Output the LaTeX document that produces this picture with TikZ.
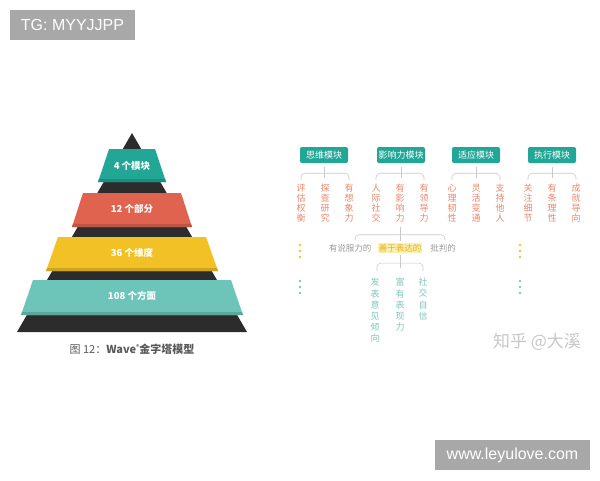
\documentclass[tikz,border=0pt]{standalone}
\usepackage{fontspec}
\setmainfont{Noto Sans CJK SC}
\newfontfamily\latinfont{Liberation Sans}
\usetikzlibrary{positioning}
\definecolor{tealA}{HTML}{22A696}
\definecolor{tealB}{HTML}{6DC5B9}
\definecolor{redA}{HTML}{E0634F}
\definecolor{yelA}{HTML}{F2C125}
\definecolor{darkA}{HTML}{2C2C2C}
\definecolor{salmon}{HTML}{E8866C}
\definecolor{greenT}{HTML}{7CC8BA}
\definecolor{grayT}{HTML}{9A9A9A}
\definecolor{lineG}{HTML}{C9C9C9}
\definecolor{hiY}{HTML}{FBF0B0}
\definecolor{yelT}{HTML}{E2B21C}
\definecolor{wmbox}{HTML}{A8A8A8}
\tikzstyle{level} = [text=white, font=\fontsize{9.5}{10}\selectfont\bfseries]
\tikzstyle{module} = [rectangle, rounded corners=2pt, minimum width=48pt, minimum height=16pt, inner sep=0pt, fill=tealA, text=white, font=\fontsize{9}{10}\selectfont]
\tikzstyle{trait} = [anchor=north, align=center, inner sep=0pt, text=salmon, font=\fontsize{9}{10}\selectfont]
\tikzstyle{facet} = [anchor=north, align=center, inner sep=0pt, text=greenT, font=\fontsize{9}{11.2}\selectfont]
\tikzstyle{option} = [inner sep=1pt, text=grayT, font=\fontsize{8.5}{9}\selectfont]
\tikzstyle{bracket} = [draw=lineG, line width=0.6pt, rounded corners=4pt]
\tikzstyle{tag} = [rectangle, inner sep=0pt, fill=wmbox, text=white, font=\latinfont\fontsize{16}{17}\selectfont]

\begin{document}
\begin{tikzpicture}[x=1pt, y=-1pt, node distance=43.3pt]
    \useasboundingbox (0,0) rectangle (600,480);

    % pyramid
    \fill[darkA] (132,133) -- (247,332) -- (17,332) -- cycle;
    \fill[tealA] (109,149) -- (155,149) -- (166,182) -- (98,182) -- cycle;
    \fill[tealA!85!black] (99,179) -- (165,179) -- (166,182) -- (98,182) -- cycle;
    \fill[redA] (83,193) -- (181,193) -- (192,227) -- (72,227) -- cycle;
    \fill[redA!85!black] (73,224) -- (191,224) -- (192,227) -- (72,227) -- cycle;
    \fill[yelA] (58,237) -- (206,237) -- (218,271) -- (46,271) -- cycle;
    \fill[yelA!85!black] (47,268) -- (217,268) -- (218,271) -- (46,271) -- cycle;
    \fill[tealB] (33,280) -- (231,280) -- (243,315) -- (21,315) -- cycle;
    \fill[tealB!85!black] (22,312) -- (242,312) -- (243,315) -- (21,315) -- cycle;

    \node (lvl1) [level] at (132,166) {4 个模块};
    \node (lvl2) [level, below of=lvl1] {12 个部分};
    \node (lvl3) [level, below of=lvl2] {36 个维度};
    \node (lvl4) [level, below of=lvl3] {108 个方面};
    \node (cap) at (132,349) [text=black!65, font=\fontsize{11}{12}\selectfont] {图 12：\textbf{Wave\raisebox{0.7ex}{\fontsize{6}{6}\selectfont ®}金字塔模型}};

    % modules
    \node (mod1) [module] at (324,155) {思维模块};
    \node (mod2) [module] at (401,155) {影响力模块};
    \node (mod3) [module] at (476,155) {适应模块};
    \node (mod4) [module] at (552,155) {执行模块};

    \node (c11) [trait] at (301,184) {评\\估\\权\\衡};
    \node (c12) [trait] at (325,184) {探\\查\\研\\究};
    \node (c13) [trait] at (349,184) {有\\想\\象\\力};
    \node (c21) [trait] at (376,184) {人\\际\\社\\交};
    \node (c22) [trait] at (400,184) {有\\影\\响\\力};
    \node (c23) [trait] at (424,184) {有\\领\\导\\力};
    \node (c31) [trait] at (452,184) {心\\理\\韧\\性};
    \node (c32) [trait] at (476,184) {灵\\活\\变\\通};
    \node (c33) [trait] at (500,184) {支\\持\\他\\人};
    \node (c41) [trait] at (528,184) {关\\注\\细\\节};
    \node (c42) [trait] at (552,184) {有\\条\\理\\性};
    \node (c43) [trait] at (576,184) {成\\就\\导\\向};

    \coordinate (k1) at ([yshift=-10pt]mod1.south);
    \coordinate (k2) at ([yshift=-10pt]mod2.south);
    \coordinate (k3) at ([yshift=-10pt]mod3.south);
    \coordinate (k4) at ([yshift=-10pt]mod4.south);
    \draw[bracket] ([yshift=4pt]c11.north) |- (k1) -| ([yshift=4pt]c13.north);
    \draw[bracket] ([yshift=4pt]c21.north) |- (k2) -| ([yshift=4pt]c23.north);
    \draw[bracket] ([yshift=4pt]c31.north) |- (k3) -| ([yshift=4pt]c33.north);
    \draw[bracket] ([yshift=4pt]c41.north) |- (k4) -| ([yshift=4pt]c43.north);
    \draw[bracket] ([yshift=-4pt]mod1.south) -- ([yshift=-15pt]mod1.south);
    \draw[bracket] ([yshift=-4pt]mod2.south) -- ([yshift=-15pt]mod2.south);
    \draw[bracket] ([yshift=-4pt]mod3.south) -- ([yshift=-15pt]mod3.south);
    \draw[bracket] ([yshift=-4pt]mod4.south) -- ([yshift=-15pt]mod4.south);

    % second level
    \node (opt1) [option] at (350,248) {有说服力的};
    \node (opt2) [option, fill=hiY, text=yelT] at (400,248) {善于表达的};
    \node (opt3) [option] at (443,248) {批判的};
    \coordinate (k5) at ([yshift=-12pt]c22.south);
    \draw[bracket] ([yshift=-4pt]c22.south) -- ([yshift=2pt]opt2.north);
    \draw[bracket] ([xshift=5pt,yshift=3pt]opt1.north) |- (k5) -| ([xshift=2pt,yshift=3pt]opt3.north);

    \node (sub1) [facet] at (375,278) {发\\表\\意\\见\\倾\\向};
    \node (sub2) [facet] at (400,278) {富\\有\\表\\现\\力};
    \node (sub3) [facet] at (423,278) {社\\交\\自\\信};
    \coordinate (k6) at ([yshift=-10pt]opt2.south);
    \draw[bracket] ([yshift=-2pt]opt2.south) -- ([yshift=-15pt]opt2.south);
    \draw[bracket] ([xshift=2pt,yshift=7pt]sub1.north) |- (k6) -| ([yshift=7pt]sub3.north);

    % dots
    \fill[yelA] (300,245) circle (1.3pt) (300,251) circle (1.3pt) (300,257) circle (1.3pt)
                (520,245) circle (1.3pt) (520,251) circle (1.3pt) (520,257) circle (1.3pt);
    \fill[greenT] (300,281) circle (1.3pt) (300,287) circle (1.3pt) (300,293) circle (1.3pt)
                  (520,281) circle (1.3pt) (520,287) circle (1.3pt) (520,293) circle (1.3pt);

    % marks
    \node (zhihu) at (537,342) [text=black!22, font=\fontsize{17}{18}\selectfont] {知乎 @大溪};
    \node (tg) [tag, minimum width=125pt, minimum height=30pt] at (72.5,25) {TG: MYYJJPP};
    \node (site) [tag, minimum width=155pt, minimum height=30pt] at (512.5,455) {www.leyulove.com};
\end{tikzpicture}
\end{document}
